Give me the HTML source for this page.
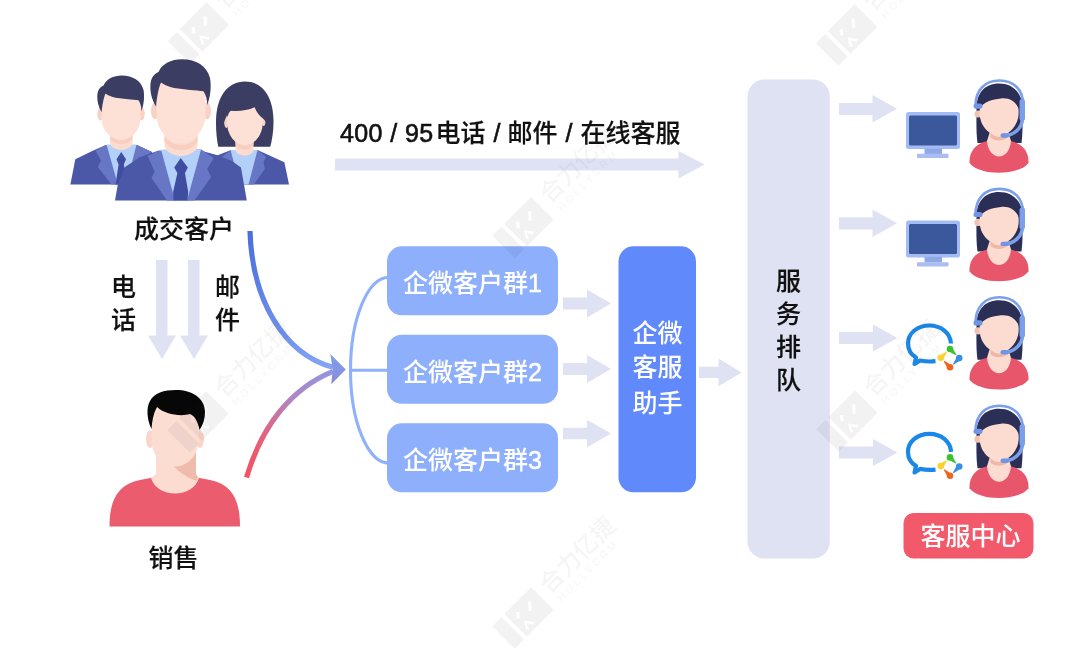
<!DOCTYPE html>
<html lang="zh-CN">
<head>
<meta charset="utf-8">
<title>企微客服流程</title>
<style>
html,body{margin:0;padding:0;background:#fff;}
body{width:1080px;height:654px;overflow:hidden;font-family:"Liberation Sans","Noto Sans CJK SC",sans-serif;}
svg{display:block;will-change:transform;transform:translateZ(0);}
text{font-family:"Liberation Sans","Noto Sans CJK SC",sans-serif;}
.t{font-size:25px;fill:#111;font-weight:500;stroke:#111;stroke-width:0.15px;}
.d{stroke-width:0.6px;}
.w{font-size:25px;fill:#fff;font-weight:500;stroke:#fff;stroke-width:0;}
.w .d{stroke-width:0.5px;}
.wm{fill:#1a1a2e;font-weight:500;fill-opacity:0.8;}
</style>
</head>
<body>
<svg width="1080" height="654" viewBox="0 0 1080 654">
<defs>
<linearGradient id="gBlue" gradientUnits="userSpaceOnUse" x1="250" y1="231" x2="340" y2="368">
<stop offset="0" stop-color="#4a6fdc"/><stop offset="1" stop-color="#86a6f6"/>
</linearGradient>
<linearGradient id="gRed" gradientUnits="userSpaceOnUse" x1="246" y1="478" x2="338" y2="371">
<stop offset="0" stop-color="#f4525f"/><stop offset="0.3" stop-color="#e5607c"/><stop offset="0.62" stop-color="#b184c0"/><stop offset="1" stop-color="#8f97e4"/>
</linearGradient>
<linearGradient id="gHead" gradientUnits="userSpaceOnUse" x1="336" y1="353" x2="336" y2="384">
<stop offset="0" stop-color="#7d9ff0"/><stop offset="1" stop-color="#8a8bd6"/>
</linearGradient>
</defs>
<rect width="1080" height="654" fill="#fff"/>

<!-- top arrow -->
<path d="M335 158.5H678.5V151L704.5 164.5L678.5 178.5V170.5H335Z" fill="#dfe2f3"/>
<text class="t" y="142.200"><tspan class="d" x="340" letter-spacing="0.4">400 / 95</tspan><tspan x="435.5">电话</tspan><tspan class="d" x="486.550"> / </tspan><tspan x="507.5">邮件</tspan><tspan class="d" x="558.550"> / </tspan><tspan x="580.5">在线客服</tspan></text>

<!-- vertical arrows -->
<path d="M156 260H167.5V335.5H176L162 359L148 335.5H156Z" fill="#dfe2f3"/>
<path d="M188 260H199.5V335.5H208L194 359L180 335.5H188Z" fill="#dfe2f3"/>
<text class="t" x="134" y="237.5">成交客户</text>
<text class="t"><tspan x="111" y="296">电</tspan><tspan x="111" y="329.300">话</tspan></text>
<text class="t"><tspan x="215" y="296">邮</tspan><tspan x="215" y="329.300">件</tspan></text>
<text class="t" x="148.5" y="567">销售</text>

<!-- curves -->
<path d="M250 231C252 300 284 354 333 367.300" fill="none" stroke="url(#gBlue)" stroke-width="5.200"/>
<path d="M246.500 477.500C262 425 292 388 333 371.300" fill="none" stroke="url(#gRed)" stroke-width="5.200"/>
<path d="M330.300 354L345.800 369.400L331.200 384.200L332.800 369.400Z" fill="url(#gHead)"/>
<path d="M389 277.200A38.500 93 0 0 0 350.500 370.200A38.500 93 0 0 0 389 463.200M349.500 370.200H388" fill="none" stroke="#8fb0fb" stroke-width="3.100"/>

<!-- group boxes -->
<rect x="387" y="246.300" width="171" height="69" rx="15" fill="#8eaffb"/>
<rect x="387" y="334.800" width="171" height="69" rx="15" fill="#8eaffb"/>
<rect x="387" y="423.300" width="171" height="69" rx="15" fill="#8eaffb"/>
<text class="w" x="403" y="292">企微客户群<tspan class="d">1</tspan></text>
<text class="w" x="403" y="380.5">企微客户群<tspan class="d">2</tspan></text>
<text class="w" x="403" y="469">企微客户群<tspan class="d">3</tspan></text>

<!-- small arrows -->
<g fill="#dfe2f3">
<path d="M563 297.5H587V289.5L611 303.5L587 317.5V309.5H563Z"/>
<path d="M563 363H587V355L611 369L587 383V375H563Z"/>
<path d="M563 427.700H587V419.700L611 433.500L587 447.300V439.300H563Z"/>
<path d="M699 366.700H718.500V358.600L741.700 372.400L718.500 386.200V378.100H699Z"/>
<path d="M839 103H872.500V95L897 108.800L872.500 122.500V115H839Z"/>
<path d="M839 217.300H872.500V209.500L897 223.300L872.500 237.100V229.500H839Z"/>
<path d="M839 332H873V324.5L897.5 338L873 351.5V344H839Z"/>
<path d="M839 446.5H873V439L897.5 452.5L873 466V458.5H839Z"/>
</g>

<!-- assistant box -->
<rect x="618.500" y="246.300" width="77.500" height="246" rx="15" fill="#6089fc"/>
<text class="w"><tspan x="632.500" y="341.500">企微</tspan><tspan x="632.500" y="376.300">客服</tspan><tspan x="632.500" y="412">助手</tspan></text>

<!-- queue box -->
<rect x="747.500" y="79.500" width="82.300" height="479" rx="17" fill="#dee2f2"/>
<text class="t"><tspan x="776" y="289.8">服</tspan><tspan x="776" y="322.8">务</tspan><tspan x="776" y="355.8">排</tspan><tspan x="776" y="388.8">队</tspan></text>

<!-- service center label -->
<rect x="903.5" y="513" width="130" height="45.5" rx="10" fill="#f25a6b"/>
<text class="w" x="920.5" y="545">客服中心</text>
<!-- agents -->
<g transform="translate(0 0.0)">
<path d="M999 83.500C985 83.500 976.500 93 976.500 108C976.500 120 976 132 977.500 143H1021.500C1023 132 1022.500 120 1022.500 108C1022.500 93 1013 83.500 999 83.500Z" fill="#2b2f55"/>
<path d="M969.5 163C969 152 975 144 987 141L1011 141C1023 144 1029 152 1028.500 163C1019 176 979 176 969.500 163Z" fill="#e8566b"/>
<path d="M987 141C988 151.500 993.500 156.500 999 156.500C1004.500 156.500 1010 151.500 1011 141L1007 128H991Z" fill="#fcdcd0"/>
<path d="M990.500 132C995 138.500 1003 138.500 1007.500 132V137.500C1003 141.500 995 141.500 990.500 137.500Z" fill="#f0b8a6"/>
<circle cx="978" cy="114" r="3.6" fill="#f3c3b2"/>
<path d="M979.500 112C979.500 100 987 94 999 94C1011 94 1018.700 100 1018.700 112C1018.700 126 1009 135.500 999 135.500C989 135.500 979.500 126 979.500 112Z" fill="#fcdcd0"/>
<path d="M978.500 110C979 99 986 93 999 93C1012 93 1019 99 1019.500 110C1016 102 1010 97.500 1001 98.500C992 99.500 984 101 978.500 110Z" fill="#2b2f55"/>
<path d="M975.500 106C975.500 90 985 80.500 999.500 80.500C1014 80.500 1023 90 1023 104" fill="none" stroke="#7b9fe8" stroke-width="2.600"/>
<path d="M1022.500 100V118C1022.500 128 1014 135.500 1004 135.500" fill="none" stroke="#7b9fe8" stroke-width="3.6" stroke-linecap="round"/>
<rect x="1019.500" y="99" width="5.500" height="22" rx="2.700" fill="#7b9fe8"/>
<rect x="1000.500" y="133.300" width="8.500" height="4.400" rx="2.200" fill="#6f95e6"/>
<rect x="973.500" y="103.500" width="9" height="5.200" rx="2.600" fill="#6f95e6"/>
</g>
<g transform="translate(0 108.4)">
<path d="M999 83.500C985 83.500 976.500 93 976.500 108C976.500 120 976 132 977.500 143H1021.500C1023 132 1022.500 120 1022.500 108C1022.500 93 1013 83.500 999 83.500Z" fill="#2b2f55"/>
<path d="M969.5 163C969 152 975 144 987 141L1011 141C1023 144 1029 152 1028.500 163C1019 176 979 176 969.500 163Z" fill="#e8566b"/>
<path d="M987 141C988 151.500 993.500 156.500 999 156.500C1004.500 156.500 1010 151.500 1011 141L1007 128H991Z" fill="#fcdcd0"/>
<path d="M990.500 132C995 138.500 1003 138.500 1007.500 132V137.500C1003 141.500 995 141.500 990.500 137.500Z" fill="#f0b8a6"/>
<circle cx="978" cy="114" r="3.6" fill="#f3c3b2"/>
<path d="M979.500 112C979.500 100 987 94 999 94C1011 94 1018.700 100 1018.700 112C1018.700 126 1009 135.500 999 135.500C989 135.500 979.500 126 979.500 112Z" fill="#fcdcd0"/>
<path d="M978.500 110C979 99 986 93 999 93C1012 93 1019 99 1019.500 110C1016 102 1010 97.500 1001 98.500C992 99.500 984 101 978.500 110Z" fill="#2b2f55"/>
<path d="M975.500 106C975.500 90 985 80.500 999.500 80.500C1014 80.500 1023 90 1023 104" fill="none" stroke="#7b9fe8" stroke-width="2.600"/>
<path d="M1022.500 100V118C1022.500 128 1014 135.500 1004 135.500" fill="none" stroke="#7b9fe8" stroke-width="3.6" stroke-linecap="round"/>
<rect x="1019.500" y="99" width="5.500" height="22" rx="2.700" fill="#7b9fe8"/>
<rect x="1000.500" y="133.300" width="8.500" height="4.400" rx="2.200" fill="#6f95e6"/>
<rect x="973.500" y="103.500" width="9" height="5.200" rx="2.600" fill="#6f95e6"/>
</g>
<g transform="translate(0 216.8)">
<path d="M999 83.500C985 83.500 976.500 93 976.500 108C976.500 120 976 132 977.500 143H1021.500C1023 132 1022.500 120 1022.500 108C1022.500 93 1013 83.500 999 83.500Z" fill="#2b2f55"/>
<path d="M969.5 163C969 152 975 144 987 141L1011 141C1023 144 1029 152 1028.500 163C1019 176 979 176 969.500 163Z" fill="#e8566b"/>
<path d="M987 141C988 151.500 993.500 156.500 999 156.500C1004.500 156.500 1010 151.500 1011 141L1007 128H991Z" fill="#fcdcd0"/>
<path d="M990.500 132C995 138.500 1003 138.500 1007.500 132V137.500C1003 141.500 995 141.500 990.500 137.500Z" fill="#f0b8a6"/>
<circle cx="978" cy="114" r="3.6" fill="#f3c3b2"/>
<path d="M979.500 112C979.500 100 987 94 999 94C1011 94 1018.700 100 1018.700 112C1018.700 126 1009 135.500 999 135.500C989 135.500 979.500 126 979.500 112Z" fill="#fcdcd0"/>
<path d="M978.500 110C979 99 986 93 999 93C1012 93 1019 99 1019.500 110C1016 102 1010 97.500 1001 98.500C992 99.500 984 101 978.500 110Z" fill="#2b2f55"/>
<path d="M975.500 106C975.500 90 985 80.500 999.500 80.500C1014 80.500 1023 90 1023 104" fill="none" stroke="#7b9fe8" stroke-width="2.600"/>
<path d="M1022.500 100V118C1022.500 128 1014 135.500 1004 135.500" fill="none" stroke="#7b9fe8" stroke-width="3.6" stroke-linecap="round"/>
<rect x="1019.500" y="99" width="5.500" height="22" rx="2.700" fill="#7b9fe8"/>
<rect x="1000.500" y="133.300" width="8.500" height="4.400" rx="2.200" fill="#6f95e6"/>
<rect x="973.500" y="103.500" width="9" height="5.200" rx="2.600" fill="#6f95e6"/>
</g>
<g transform="translate(0 325.2)">
<path d="M999 83.500C985 83.500 976.500 93 976.500 108C976.500 120 976 132 977.500 143H1021.500C1023 132 1022.500 120 1022.500 108C1022.500 93 1013 83.500 999 83.500Z" fill="#2b2f55"/>
<path d="M969.5 163C969 152 975 144 987 141L1011 141C1023 144 1029 152 1028.500 163C1019 176 979 176 969.500 163Z" fill="#e8566b"/>
<path d="M987 141C988 151.500 993.500 156.500 999 156.500C1004.500 156.500 1010 151.500 1011 141L1007 128H991Z" fill="#fcdcd0"/>
<path d="M990.500 132C995 138.500 1003 138.500 1007.500 132V137.500C1003 141.500 995 141.500 990.500 137.500Z" fill="#f0b8a6"/>
<circle cx="978" cy="114" r="3.6" fill="#f3c3b2"/>
<path d="M979.500 112C979.500 100 987 94 999 94C1011 94 1018.700 100 1018.700 112C1018.700 126 1009 135.500 999 135.500C989 135.500 979.500 126 979.500 112Z" fill="#fcdcd0"/>
<path d="M978.500 110C979 99 986 93 999 93C1012 93 1019 99 1019.500 110C1016 102 1010 97.500 1001 98.500C992 99.500 984 101 978.500 110Z" fill="#2b2f55"/>
<path d="M975.500 106C975.500 90 985 80.500 999.500 80.500C1014 80.500 1023 90 1023 104" fill="none" stroke="#7b9fe8" stroke-width="2.600"/>
<path d="M1022.500 100V118C1022.500 128 1014 135.500 1004 135.500" fill="none" stroke="#7b9fe8" stroke-width="3.6" stroke-linecap="round"/>
<rect x="1019.500" y="99" width="5.500" height="22" rx="2.700" fill="#7b9fe8"/>
<rect x="1000.500" y="133.300" width="8.500" height="4.400" rx="2.200" fill="#6f95e6"/>
<rect x="973.500" y="103.500" width="9" height="5.200" rx="2.600" fill="#6f95e6"/>
</g>
<g transform="translate(0 0)">
<rect x="906" y="112" width="54" height="37" rx="2.500" fill="#a3bcf3"/>
<rect x="909" y="115.500" width="48" height="30" rx="1.500" fill="#3c589c"/>
<rect x="924.500" y="148.500" width="17.500" height="5.500" fill="#8fa9e8"/>
<rect x="917" y="153.800" width="31.500" height="4.200" rx="0.800" fill="#a9bdf0"/>
</g>
<g transform="translate(0 108.4)">
<rect x="906" y="112" width="54" height="37" rx="2.500" fill="#a3bcf3"/>
<rect x="909" y="115.500" width="48" height="30" rx="1.500" fill="#3c589c"/>
<rect x="924.500" y="148.500" width="17.500" height="5.500" fill="#8fa9e8"/>
<rect x="917" y="153.800" width="31.500" height="4.200" rx="0.800" fill="#a9bdf0"/>
</g>
<g transform="translate(0 0)">
<path d="M951 343.500C950.500 333 941 325.500 929.500 325.500C917 325.500 908 333.500 908 343.500C908 349.500 911 354.500 916 357.500L914.500 364L920 360.500C925 361.500 930 361.800 935.500 361.200" fill="none" stroke="#1b87e6" stroke-width="4.200" stroke-linejoin="round"/>
<circle cx="950.0" cy="349.0" r="3.3" fill="#3dc12c"/><path d="M950.3 352.2L955.7 355.2L956.3 354.6L953.2 349.3Z" fill="#3dc12c"/><circle cx="940.8" cy="357.7" r="3.3" fill="#f9d230"/><path d="M944.0 357.5L947.0 352.4L946.4 351.8L941.2 354.5Z" fill="#f9d230"/><circle cx="959.2" cy="358.1" r="3.3" fill="#3a8ee6"/><path d="M956.0 358.5L952.9 364.2L953.5 364.8L959.0 361.3Z" fill="#3a8ee6"/><circle cx="950.0" cy="367.3" r="3.3" fill="#f0641e"/><path d="M949.7 364.1L944.3 360.8L943.7 361.4L946.8 366.9Z" fill="#f0641e"/>
</g>
<g transform="translate(0 108.4)">
<path d="M951 343.500C950.500 333 941 325.500 929.500 325.500C917 325.500 908 333.500 908 343.500C908 349.500 911 354.500 916 357.500L914.500 364L920 360.500C925 361.500 930 361.800 935.500 361.200" fill="none" stroke="#1b87e6" stroke-width="4.200" stroke-linejoin="round"/>
<circle cx="950.0" cy="349.0" r="3.3" fill="#3dc12c"/><path d="M950.3 352.2L955.7 355.2L956.3 354.6L953.2 349.3Z" fill="#3dc12c"/><circle cx="940.8" cy="357.7" r="3.3" fill="#f9d230"/><path d="M944.0 357.5L947.0 352.4L946.4 351.8L941.2 354.5Z" fill="#f9d230"/><circle cx="959.2" cy="358.1" r="3.3" fill="#3a8ee6"/><path d="M956.0 358.5L952.9 364.2L953.5 364.8L959.0 361.3Z" fill="#3a8ee6"/><circle cx="950.0" cy="367.3" r="3.3" fill="#f0641e"/><path d="M949.7 364.1L944.3 360.8L943.7 361.4L946.8 366.9Z" fill="#f0641e"/>
</g>
<!-- customers -->
<g id="cust-left">
<path d="M70.400 184.600L75.300 159.200L94.300 150L106 145H137L152 152L160 184.600Z" fill="#4b58a8"/>
<path d="M106 145L95.500 150.600L101 160.400L97.900 167.100L111.400 184.600H130L143.500 167L140.500 160.400L151.800 152L137 145Z" fill="#6876c6"/>
<path d="M106.500 144.500H136.500L126.500 184.600H116.900L115.700 176.900Z" fill="#b3d0f8"/>
<path d="M121.200 152L116.500 159.200L118.600 164.500L115.500 184.600H127L123.800 164.500L126 159.200Z" fill="#3f4da0"/>
<path d="M110 130H132.500V143C132.500 147 126 150 121.200 150C116.500 150 110 147 110 143Z" fill="#fcdcd0"/>
<path d="M110 134C115 142 127.500 142 132.500 134V138.500C127.500 146 115 146 110 138.500Z" fill="#f8cebe"/>
<ellipse cx="100.500" cy="114" rx="3.200" ry="6.500" fill="#f8d2c4"/>
<ellipse cx="141.500" cy="114" rx="3.200" ry="6.500" fill="#f8d2c4"/>
<path d="M101.500 100C101.500 88 110 84 121 84C132 84 140.500 88 140.500 100V118C140.500 131 131 139.500 121 139.500C111 139.500 101.500 131 101.500 118Z" fill="#fde1d6"/>
<path transform="translate(120.800 75.600) scale(0.776) translate(-180.700 -59.300)" d="M156 106.500C152 100 150 92 150.400 86C150.500 79 153 74.500 158.500 72C162 64 171 59.300 182 59.300C196 59.300 207 66 210 78C211.500 86 210.500 97 207.300 105C207 99 206 95 203.500 91.200C196 90.500 185 89.500 174 88C169 87 164.500 85 161 82.500C158.500 88 157 97 156 106.500Z" fill="#3c3d62"/>
</g>
<g id="cust-right">
<path d="M216 122C216 96 228 81.500 245 81.500C262 81.500 273.500 96 273.500 122C273.500 132 272 140 270.300 146.700H218.300C216.800 140 216 132 216 122Z" fill="#3c3d62"/>
<path d="M199 184.600L205 160L217 155.500L231 150H257.500L284.400 162.200L289 184.600Z" fill="#4b58a8"/>
<path d="M231 150L222 156.700L224.500 162.200L223.300 168.900L234.300 184.600H253.800L264.800 168.900L263.600 162.200L266 156.700L257.500 150Z" fill="#6876c6"/>
<path d="M230.600 150H257.500L248.500 184.600H239.500Z" fill="#b3d0f8"/>
<path d="M235.500 134H253.500V150C253.500 153 249 155.500 244.600 155.500C240 155.500 235.500 153 235.500 150Z" fill="#fcdcd0"/>
<path d="M235.500 140C240 147 249 147 253.500 140V144.500C249 151.500 240 151.500 235.500 144.500Z" fill="#f8cebe"/>
<ellipse cx="226.300" cy="121.500" rx="2.200" ry="6.500" fill="#f8d2c4"/><ellipse cx="263.600" cy="120.500" rx="2" ry="5.500" fill="#f8d2c4"/>
<path d="M227 122C227 110 234.500 104 244.800 104C255 104 262.800 110 262.800 122C262.800 135.500 254 145.200 244.800 145.200C235.500 145.200 227 135.500 227 122Z" fill="#fde1d6"/>
<path d="M223 125C222.500 106 232 97 245 97C258 97 267 107 267 125C266 122 264.500 120 262.700 118.300C259.500 116 256.500 112 254.600 107.300C248 110.500 238 111.500 231.500 110.800C229.500 111.500 228 112.500 227.500 114C226 117.500 224.500 121 223 125Z" fill="#3c3d62"/>
</g>
<g id="cust-mid">
<path d="M115 200.600L117.800 184.400L124.300 167.600L139.800 157.200L158 150.700H201.400L217.600 155.300L231.900 161L241 167.600L246.800 200.600Z" fill="#4b58a8"/>
<path d="M158 150.700L147.600 155.900L154.700 171.500L151.500 178L167 200.600H194.300L211.100 177.300L207.200 168.900L213.700 157.900L201.400 149.400Z" fill="#6876c6"/>
<path d="M161 149.400H201L187 200.600H175Z" fill="#b3d0f8"/>
<path d="M180.700 157.900L174.200 167.600L177.400 173L173.100 192L173.500 200.600H187.500L188.200 192L185 173L187.800 167.600Z" fill="#3f4da0"/>
<path d="M164.500 130H197.500V146C197.500 151 188 156 181 156C174 156 164.500 151 164.500 146Z" fill="#fcdcd0"/>
<path d="M164.500 136C172 148 190 148 197.500 136V141.500C190 153 172 153 164.500 141.500Z" fill="#f8cebe"/>
<ellipse cx="155" cy="111" rx="4" ry="8.500" fill="#f8d2c4"/>
<ellipse cx="207" cy="111" rx="4" ry="8.500" fill="#f8d2c4"/>
<path d="M156.500 92C156.500 76 168 70 181 70C194 70 205.500 76 205.500 92V114C205.500 131 193 143 181 143C169 143 156.500 131 156.500 114Z" fill="#fde1d6"/>
<path d="M156 106.500C152 100 150 92 150.400 86C150.500 79 153 74.500 158.500 72C162 64 171 59.300 182 59.300C196 59.300 207 66 210 78C211.500 86 210.500 97 207.300 105C207 99 206 95 203.500 91.200C196 90.500 185 89.500 174 88C169 87 164.500 85 161 82.500C158.500 88 157 97 156 106.500Z" fill="#3c3d62"/>
</g>
<!-- sales -->
<g id="salesman">
<path d="M109.500 526.500C109.500 500 118 484 140 480L158 476.500H192L210 480C232 484 240 500 240 526.500Z" fill="#eb5c6e"/>
<path d="M156 440H196V474L199 478C196 488 186 493.500 175 493.500C164 493.500 154 488 151 478L156 474Z" fill="#fcdcd0"/>
<path d="M163 452C170 464 186 466 196 452V474L198 478L197 481C186 478 172 468 163 452Z" fill="#efbcab"/>
<ellipse cx="150" cy="439" rx="4" ry="9" fill="#fad6ca"/>
<ellipse cx="200" cy="439" rx="4" ry="9" fill="#fad6ca"/>
<path d="M151.500 420C151.500 404 162 398 175 398C188 398 198.500 404 198.500 420V440C198.500 456 187 466.500 175 466.500C163 466.500 151.500 456 151.500 440Z" fill="#fcddd2"/>
<path d="M151.500 429C147 420 146 408 150 401C154 393 164 390 176 390C192 390 205 398 205 412C205 419 203 425 199.500 430C198 422 195 416 190 414C180 417 164 414 157 407C153.500 413 152 421 151.500 429Z" fill="#070707"/>
</g>
<!-- watermarks -->
<g transform="translate(198.5 33) rotate(-45)" opacity="0.052">
<path d="M-27.500 -16H-14.500V16H-27.500ZM-10.500 -16H27.500V16H-10.500ZM-6 10.500L-1 2.500L5 10.500L2.500 12L-1 6.500L-3.500 12ZM-5 -4L-1 -9L1.500 -7L-2.500 -2ZM9 -1L15 -8L17.500 -6L11.500 1Z" fill="#1a1a2e" fill-rule="evenodd"/>
<text x="35" y="2" font-size="24" class="wm">合力亿捷</text>
<text x="38.500" y="16" font-size="10.500" class="wm" letter-spacing="3.100">HOLLYCRM</text>
</g>
<g transform="translate(846.6 35) rotate(-45)" opacity="0.052">
<path d="M-27.500 -16H-14.500V16H-27.500ZM-10.500 -16H27.500V16H-10.500ZM-6 10.500L-1 2.500L5 10.500L2.500 12L-1 6.500L-3.500 12ZM-5 -4L-1 -9L1.500 -7L-2.500 -2ZM9 -1L15 -8L17.500 -6L11.500 1Z" fill="#1a1a2e" fill-rule="evenodd"/>
<text x="35" y="2" font-size="24" class="wm">合力亿捷</text>
<text x="38.500" y="16" font-size="10.500" class="wm" letter-spacing="3.100">HOLLYCRM</text>
</g>
<g transform="translate(523 227.7) rotate(-45)" opacity="0.052">
<path d="M-27.500 -16H-14.500V16H-27.500ZM-10.500 -16H27.500V16H-10.500ZM-6 10.500L-1 2.500L5 10.500L2.500 12L-1 6.500L-3.500 12ZM-5 -4L-1 -9L1.500 -7L-2.500 -2ZM9 -1L15 -8L17.500 -6L11.500 1Z" fill="#1a1a2e" fill-rule="evenodd"/>
<text x="35" y="2" font-size="24" class="wm">合力亿捷</text>
<text x="38.500" y="16" font-size="10.500" class="wm" letter-spacing="3.100">HOLLYCRM</text>
</g>
<g transform="translate(198 422) rotate(-45)" opacity="0.052">
<path d="M-27.500 -16H-14.500V16H-27.500ZM-10.500 -16H27.500V16H-10.500ZM-6 10.500L-1 2.500L5 10.500L2.500 12L-1 6.500L-3.500 12ZM-5 -4L-1 -9L1.500 -7L-2.500 -2ZM9 -1L15 -8L17.500 -6L11.500 1Z" fill="#1a1a2e" fill-rule="evenodd"/>
<text x="35" y="2" font-size="24" class="wm">合力亿捷</text>
<text x="38.500" y="16" font-size="10.500" class="wm" letter-spacing="3.100">HOLLYCRM</text>
</g>
<g transform="translate(847 421) rotate(-45)" opacity="0.052">
<path d="M-27.500 -16H-14.500V16H-27.500ZM-10.500 -16H27.500V16H-10.500ZM-6 10.500L-1 2.500L5 10.500L2.500 12L-1 6.500L-3.500 12ZM-5 -4L-1 -9L1.500 -7L-2.500 -2ZM9 -1L15 -8L17.500 -6L11.500 1Z" fill="#1a1a2e" fill-rule="evenodd"/>
<text x="35" y="2" font-size="24" class="wm">合力亿捷</text>
<text x="38.500" y="16" font-size="10.500" class="wm" letter-spacing="3.100">HOLLYCRM</text>
</g>
<g transform="translate(523 618) rotate(-45)" opacity="0.052">
<path d="M-27.500 -16H-14.500V16H-27.500ZM-10.500 -16H27.500V16H-10.500ZM-6 10.500L-1 2.500L5 10.500L2.500 12L-1 6.500L-3.500 12ZM-5 -4L-1 -9L1.500 -7L-2.500 -2ZM9 -1L15 -8L17.500 -6L11.500 1Z" fill="#1a1a2e" fill-rule="evenodd"/>
<text x="35" y="2" font-size="24" class="wm">合力亿捷</text>
<text x="38.500" y="16" font-size="10.500" class="wm" letter-spacing="3.100">HOLLYCRM</text>
</g>
</svg>
</body>
</html>
